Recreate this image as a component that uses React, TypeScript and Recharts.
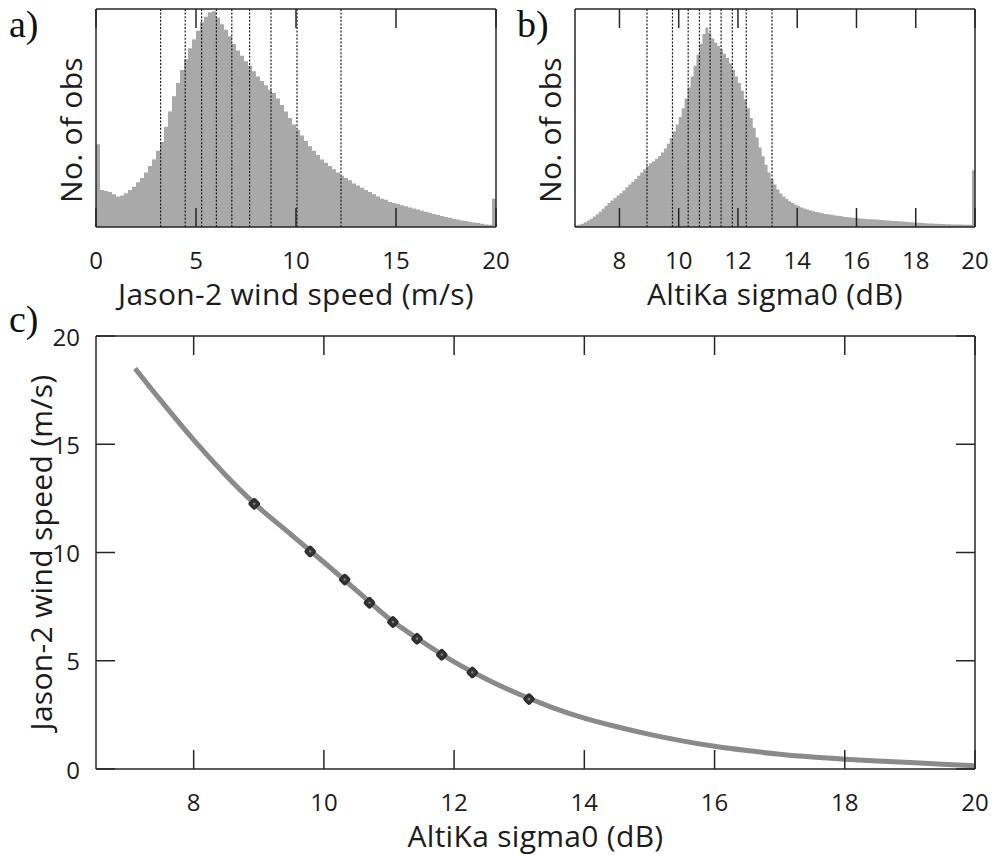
import {
  Area,
  AreaChart,
  ComposedChart,
  Line,
  ReferenceLine,
  Scatter,
  XAxis,
  YAxis,
} from "recharts";

// a) Jason-2 wind speed histogram, 0.2 m/s bins starting at 0 (relative counts)
const windCounts = [
  38, 17, 16.5, 16, 15, 14, 14.5, 15.5, 17, 18.5,
  20.5, 22.5, 25, 28, 31, 35, 39, 46, 53, 60,
  66, 72, 77, 82, 86, 90, 94, 96.5, 98.5, 99,
  96, 93, 90.5, 87.5, 84, 81, 78.5, 76, 74, 71.5,
  69, 67, 65, 63, 61.5, 59, 56, 53, 50, 47,
  44.5, 42, 39.5, 37, 35, 33, 31, 29.5, 28, 26.5,
  25, 23.5, 22.5, 21.5, 20, 19, 18, 17, 16, 15,
  14, 13, 12.5, 11.5, 11, 10.5, 10, 9.5, 9, 8.5,
  8, 7.5, 7, 6.5, 6, 5.5, 5, 4.6, 4.2, 3.8,
  3.4, 3, 2.7, 2.4, 2.1, 1.8, 1.5, 1.2, 1.0, 13,
];
const windTicks = [0, 5, 10, 15, 20];

// b) AltiKa sigma0 histogram, 0.1 dB bins starting at 6.5 dB
const sigmaCounts = [
  0.8, 1.0, 1.5, 2.2, 3.0, 3.8, 4.8, 5.8, 7.0, 8.4,
  9.8, 11.0, 12.2, 13.3, 14.4, 15.5, 16.8, 18.2, 19.5, 20.8,
  22.0, 23.5, 25.0, 26.5, 28.0, 29.2, 30.2, 31.3, 32.6, 34.2,
  36.0, 38.2, 40.8, 43.8, 47.0, 50.5, 54.5, 59.0, 64.0, 69.0,
  74.0, 79.0, 84.0, 88.5, 91.5, 89.0, 86.5, 84.5, 83.0, 81.5,
  79.5, 77.5, 75.0, 72.0, 69.0, 66.0, 62.5, 58.5, 54.5, 50.0,
  45.5, 41.0, 36.5, 32.5, 28.5, 25.0, 22.0, 19.5, 17.2, 15.4,
  14.0, 12.8, 11.8, 11.0, 10.2, 9.6, 9.0, 8.5, 8.0, 7.6,
  7.2, 6.9, 6.6, 6.3, 6.0, 5.8, 5.6, 5.4, 5.2, 5.0,
  4.8, 4.6, 4.5, 4.3, 4.2, 4.0, 3.9, 3.8, 3.7, 3.6,
  3.5, 3.4, 3.3, 3.2, 3.1, 3.0, 2.9, 2.8, 2.7, 2.6,
  2.5, 2.4, 2.3, 2.2, 2.1, 2.0, 1.9, 1.8, 1.7, 1.6,
  1.6, 1.5, 1.5, 1.4, 1.4, 1.3, 1.3, 1.2, 1.2, 1.1,
  1.1, 1.0, 1.0, 1.0, 26,
];
const sigmaTicks = [8, 10, 12, 14, 16, 18, 20];

// c) sigma0 -> wind speed model curve
const curveSigma = [
  7.1, 7.5, 8, 8.5, 9, 9.5, 10, 10.5, 11, 11.5, 12, 12.5, 13, 13.5,
  14, 14.5, 15, 15.5, 16, 16.5, 17, 17.5, 18, 18.5, 19, 19.5, 20,
];
const curveWind = [
  18.5, 17.0, 15.2, 13.55, 12.08, 10.82, 9.55, 8.25, 6.95, 5.9, 4.95, 4.15, 3.45, 2.85,
  2.35, 1.95, 1.6, 1.3, 1.05, 0.85, 0.68, 0.55, 0.45, 0.37, 0.3, 0.22, 0.15,
];
const windSpeedTicks = [0, 5, 10, 15, 20];

// matched quantiles (dashed lines in a/b, markers in c)
const markerSigma = [8.93, 9.79, 10.32, 10.7, 11.06, 11.43, 11.81, 12.28, 13.15];
const markerWind = [12.25, 10.05, 8.75, 7.68, 6.79, 6.02, 5.28, 4.46, 3.23];

const windData = [
  ...windCounts.map((count, i) => ({ speed: Number((i * 0.2).toFixed(1)), count })),
  { speed: 20, count: windCounts[windCounts.length - 1] },
];
const sigmaData = [
  ...sigmaCounts.map((count, i) => ({ sigma: Number((6.5 + i * 0.1).toFixed(1)), count })),
  { sigma: 20, count: sigmaCounts[sigmaCounts.length - 1] },
];
const curveData = curveSigma.map((s, i) => ({ s, w: curveWind[i] }));
const markerData = markerSigma.map((s, i) => ({ s, w: markerWind[i] }));

const FONT = '"Open Sans", "Noto Sans", sans-serif';
const SERIF = '"Liberation Serif", "Times New Roman", serif';
const INK = "#262626";
const TEXT = "#1c1c1c";
const HIST = "#a9a9a9";
const CURVE = "#8a8a8a";
const TICK_LEN = 19;
const X_GAP = 32;
const Y_GAP = 16;
const HIST_PLOT_H = 218;
const CURVE_PLOT_H = 433;
const axisLine = { stroke: INK, strokeWidth: 1.5 };
const titleStyle = { fontSize: 30, fontFamily: FONT, fill: TEXT, letterSpacing: 0.3 };

interface TickArgs {
  x?: number;
  y?: number;
  payload?: { value: number };
  span?: number;
}

// bottom tick: label + inward tick at the bottom and, mirrored, at the top frame
function BottomTick({ x = 0, y = 0, payload, span = 0 }: TickArgs) {
  const axisY = y - X_GAP;
  const topY = axisY - span;
  return (
    <g>
      <line x1={x} x2={x} y1={axisY} y2={axisY - TICK_LEN} stroke={INK} strokeWidth={1.5} />
      <line x1={x} x2={x} y1={topY} y2={topY + TICK_LEN} stroke={INK} strokeWidth={1.5} />
      <text x={x} y={y} textAnchor="middle" dominantBaseline="central" fontFamily={FONT} fontSize={24} fill={TEXT}>
        {payload?.value}
      </text>
    </g>
  );
}

function LeftTick({ x = 0, y = 0, payload }: TickArgs) {
  const axisX = x + Y_GAP;
  return (
    <g>
      <line x1={axisX} x2={axisX + TICK_LEN} y1={y} y2={y} stroke={INK} strokeWidth={1.5} />
      <text x={x} y={y} textAnchor="end" dominantBaseline="central" fontFamily={FONT} fontSize={24} fill={TEXT}>
        {payload?.value}
      </text>
    </g>
  );
}

function RightTick({ x = 0, y = 0 }: TickArgs) {
  return <line x1={x} x2={x - TICK_LEN} y1={y} y2={y} stroke={INK} strokeWidth={1.5} />;
}

interface VTitleProps {
  viewBox?: { x: number; y: number; width: number; height: number };
  text: string;
  shift?: number;
}

function VTitle({ viewBox, text, shift = 0 }: VTitleProps) {
  if (!viewBox) return null;
  const cx = viewBox.x + viewBox.width / 2;
  const cy = viewBox.y + viewBox.height / 2 + shift;
  return (
    <text
      x={cx}
      y={cy}
      transform={`rotate(-90 ${cx} ${cy})`}
      textAnchor="middle"
      dominantBaseline="central"
      fontFamily={FONT}
      fontSize={30}
      letterSpacing={0.3}
      fill={TEXT}
    >
      {text}
    </text>
  );
}

function Marker({ cx = 0, cy = 0 }: { cx?: number; cy?: number }) {
  return (
    <g>
      <rect
        x={cx - 3.8}
        y={cy - 3.8}
        width={7.6}
        height={7.6}
        rx={1.5}
        transform={`rotate(45 ${cx} ${cy})`}
        fill="#383838"
        stroke="#2c2c2c"
        strokeWidth={2}
      />
      <circle cx={cx} cy={cy} r={1.1} fill="#8c8c8c" />
    </g>
  );
}

function PanelTag({ text, left, top }: { text: string; left: number; top: number }) {
  return (
    <div
      style={{
        position: "absolute",
        left,
        top,
        fontFamily: SERIF,
        fontSize: 38,
        lineHeight: "38px",
        color: "#111",
      }}
    >
      {text}
    </div>
  );
}

export default function App() {
  return (
    <div style={{ position: "absolute", left: 0, top: 0, width: 994, height: 858, background: "#fff" }}>
      <div style={{ position: "absolute", left: 0, top: 0 }}>
        <AreaChart width={530} height={320} data={windData} margin={{ top: 8, right: 33, left: 44, bottom: 10 }}>
          <Area
            dataKey="count"
            type="stepAfter"
            fill={HIST}
            fillOpacity={1}
            stroke="none"
            isAnimationActive={false}
            dot={false}
            activeDot={false}
          />
          <XAxis
            dataKey="speed"
            type="number"
            domain={[0, 20]}
            ticks={windTicks}
            interval={0}
            height={83}
            tickSize={0}
            tickMargin={X_GAP}
            tickLine={false}
            axisLine={axisLine}
            tick={(p: TickArgs) => <BottomTick {...p} span={HIST_PLOT_H} />}
            label={{ value: "Jason-2 wind speed (m/s)", position: "insideBottom", offset: 5, ...titleStyle }}
          />
          <XAxis xAxisId="top" orientation="top" height={1} tick={false} tickLine={false} axisLine={axisLine} />
          <YAxis
            type="number"
            domain={[0, 100]}
            width={52}
            tick={false}
            tickLine={false}
            axisLine={axisLine}
            label={<VTitle text="No. of obs" shift={12} />}
          />
          <YAxis
            yAxisId="r"
            orientation="right"
            type="number"
            domain={[0, 100]}
            width={1}
            tick={false}
            tickLine={false}
            axisLine={axisLine}
          />
          {markerWind.map((v) => (
            <ReferenceLine key={v} x={v} stroke="#1a1a1a" strokeWidth={1.2} strokeDasharray="2 1.6" />
          ))}
        </AreaChart>
      </div>

      <div style={{ position: "absolute", left: 500, top: 0 }}>
        <AreaChart width={494} height={320} data={sigmaData} margin={{ top: 8, right: 18, left: 23, bottom: 10 }}>
          <Area
            dataKey="count"
            type="stepAfter"
            fill={HIST}
            fillOpacity={1}
            stroke="none"
            isAnimationActive={false}
            dot={false}
            activeDot={false}
          />
          <XAxis
            dataKey="sigma"
            type="number"
            domain={[6.5, 20]}
            ticks={sigmaTicks}
            interval={0}
            height={83}
            tickSize={0}
            tickMargin={X_GAP}
            tickLine={false}
            axisLine={axisLine}
            tick={(p: TickArgs) => <BottomTick {...p} span={HIST_PLOT_H} />}
            label={{ value: "AltiKa sigma0 (dB)", position: "insideBottom", offset: 5, ...titleStyle }}
          />
          <XAxis xAxisId="top" orientation="top" height={1} tick={false} tickLine={false} axisLine={axisLine} />
          <YAxis
            type="number"
            domain={[0, 100]}
            width={52}
            tick={false}
            tickLine={false}
            axisLine={axisLine}
            label={<VTitle text="No. of obs" shift={12} />}
          />
          <YAxis
            yAxisId="r"
            orientation="right"
            type="number"
            domain={[0, 100]}
            width={1}
            tick={false}
            tickLine={false}
            axisLine={axisLine}
          />
          {markerSigma.map((v) => (
            <ReferenceLine key={v} x={v} stroke="#1a1a1a" strokeWidth={1.2} strokeDasharray="2 1.6" />
          ))}
        </AreaChart>
      </div>

      <div style={{ position: "absolute", left: -16, top: 300 }}>
        <ComposedChart width={1010} height={558} data={curveData} margin={{ top: 35, right: 18, left: 0, bottom: 6 }}>
          <XAxis
            dataKey="s"
            type="number"
            domain={[6.5, 20]}
            allowDataOverflow
            ticks={sigmaTicks}
            interval={0}
            height={83}
            tickSize={0}
            tickMargin={X_GAP}
            tickLine={false}
            axisLine={axisLine}
            tick={(p: TickArgs) => <BottomTick {...p} span={CURVE_PLOT_H} />}
            label={{ value: "AltiKa sigma0 (dB)", position: "insideBottom", offset: 5, ...titleStyle }}
          />
          <XAxis xAxisId="top" orientation="top" height={1} tick={false} tickLine={false} axisLine={axisLine} />
          <YAxis
            type="number"
            domain={[0, 20]}
            allowDataOverflow
            ticks={windSpeedTicks}
            interval={0}
            width={112}
            tickSize={0}
            tickMargin={Y_GAP}
            tickLine={false}
            axisLine={axisLine}
            tick={(p: TickArgs) => <LeftTick {...p} />}
            label={<VTitle text="Jason-2 wind speed (m/s)" />}
          />
          <YAxis
            yAxisId="r"
            orientation="right"
            type="number"
            domain={[0, 20]}
            allowDataOverflow
            ticks={windSpeedTicks}
            interval={0}
            width={1}
            tickSize={0}
            tickMargin={0}
            tickLine={false}
            axisLine={axisLine}
            tick={(p: TickArgs) => <RightTick {...p} />}
          />
          <Line
            dataKey="w"
            type="monotone"
            stroke={CURVE}
            strokeWidth={5}
            dot={false}
            activeDot={false}
            isAnimationActive={false}
          />
          <Scatter
            data={markerData}
            dataKey="w"
            shape={(p: { cx?: number; cy?: number }) => <Marker cx={p.cx} cy={p.cy} />}
            isAnimationActive={false}
          />
        </ComposedChart>
      </div>

      <PanelTag text="a)" left={9} top={5} />
      <PanelTag text="b)" left={517} top={5} />
      <PanelTag text="c)" left={9} top={300} />
    </div>
  );
}
